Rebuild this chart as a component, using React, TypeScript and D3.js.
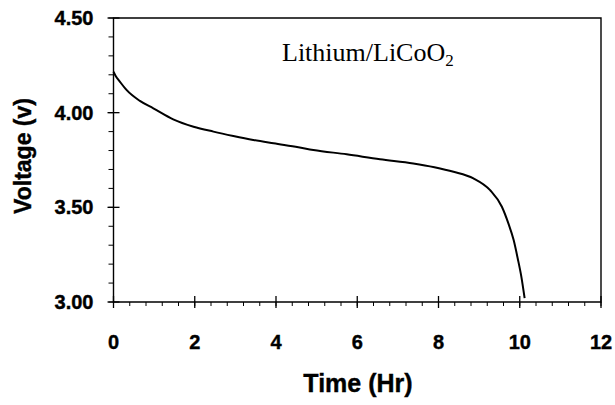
import React from "react";
import * as d3 from "d3";

const timeHr = [0, 0.05, 0.16, 0.32, 0.65, 0.98, 1.47, 1.97, 2.46, 2.95, 3.44, 3.94, 4.55, 4.92, 5.74, 6.56, 7.38, 7.9, 8.37, 8.86, 9.27, 9.56, 9.72, 9.85, 9.95, 10.04, 10.12];
const voltage = [4.216, 4.195, 4.163, 4.12, 4.062, 4.023, 3.965, 3.926, 3.9, 3.877, 3.856, 3.838, 3.817, 3.803, 3.78, 3.754, 3.732, 3.712, 3.688, 3.653, 3.591, 3.503, 3.415, 3.327, 3.23, 3.133, 3.02];

const xTicks = [0, 2, 4, 6, 8, 10, 12];
const yTicks = [3.0, 3.5, 4.0, 4.5];
const xMinor = d3.range(0, 12.001, 0.4);
const yMinor = d3.range(3.0, 4.5001, 0.1);

const W = 615, H = 405;
const L = 113.5, R = 601, T = 18, B = 302;

export default function App() {
  const x = d3.scaleLinear().domain([0, 12]).range([L, R]);
  const y = d3.scaleLinear().domain([3, 4.5]).range([B, T]);
  const line = d3.line<number>().x((_, i) => x(timeHr[i])).y((_, i) => y(voltage[i])).curve(d3.curveMonotoneX);
  const sans = "'Liberation Sans', Arial, sans-serif";
  const bold = { fontFamily: sans, fontWeight: "bold" as const, stroke: "#000", strokeWidth: 0.4 };
  return (
    <svg width={W} height={H} style={{ position: "absolute", left: 0, top: 0, background: "#fff" }}>
      <path d={`M${L},${B}V${T}H${R}V${B}Z`} fill="none" stroke="#000" strokeWidth={1.4} />
      {xMinor.map((v, i) => (
        <line key={"xm" + i} x1={x(v)} x2={x(v)} y1={B} y2={B + 4} stroke="#000" strokeWidth={1} />
      ))}
      {xTicks.map((v) => (
        <g key={"xt" + v}>
          <line x1={x(v)} x2={x(v)} y1={B - 6} y2={B + 6} stroke="#000" strokeWidth={1.3} />
          <text x={x(v)} y={B + 47} textAnchor="middle" fontSize={20} {...bold}>{v}</text>
        </g>
      ))}
      {yMinor.map((v, i) => (
        <line key={"ym" + i} x1={L - 5} x2={L} y1={y(v)} y2={y(v)} stroke="#000" strokeWidth={1} />
      ))}
      {yTicks.map((v) => (
        <g key={"yt" + v}>
          <line x1={L - 6} x2={L + 6} y1={y(v)} y2={y(v)} stroke="#000" strokeWidth={1.3} />
          <text x={L - 20} y={y(v) + 7} textAnchor="end" fontSize={20} {...bold}>{v.toFixed(2)}</text>
        </g>
      ))}
      <path d={line(timeHr) || ""} fill="none" stroke="#000" strokeWidth={2} />
      <text x={282} y={61} fontFamily="'Liberation Serif', 'Times New Roman', serif" fontSize={26}>
        Lithium/LiCoO<tspan fontSize={17} dy={5}>2</tspan>
      </text>
      <text x={358} y={392} textAnchor="middle" fontSize={25} {...bold}>Time (Hr)</text>
      <text transform={`translate(31,156) rotate(-90)`} textAnchor="middle" fontSize={23} {...bold}>Voltage (v)</text>
    </svg>
  );
}
